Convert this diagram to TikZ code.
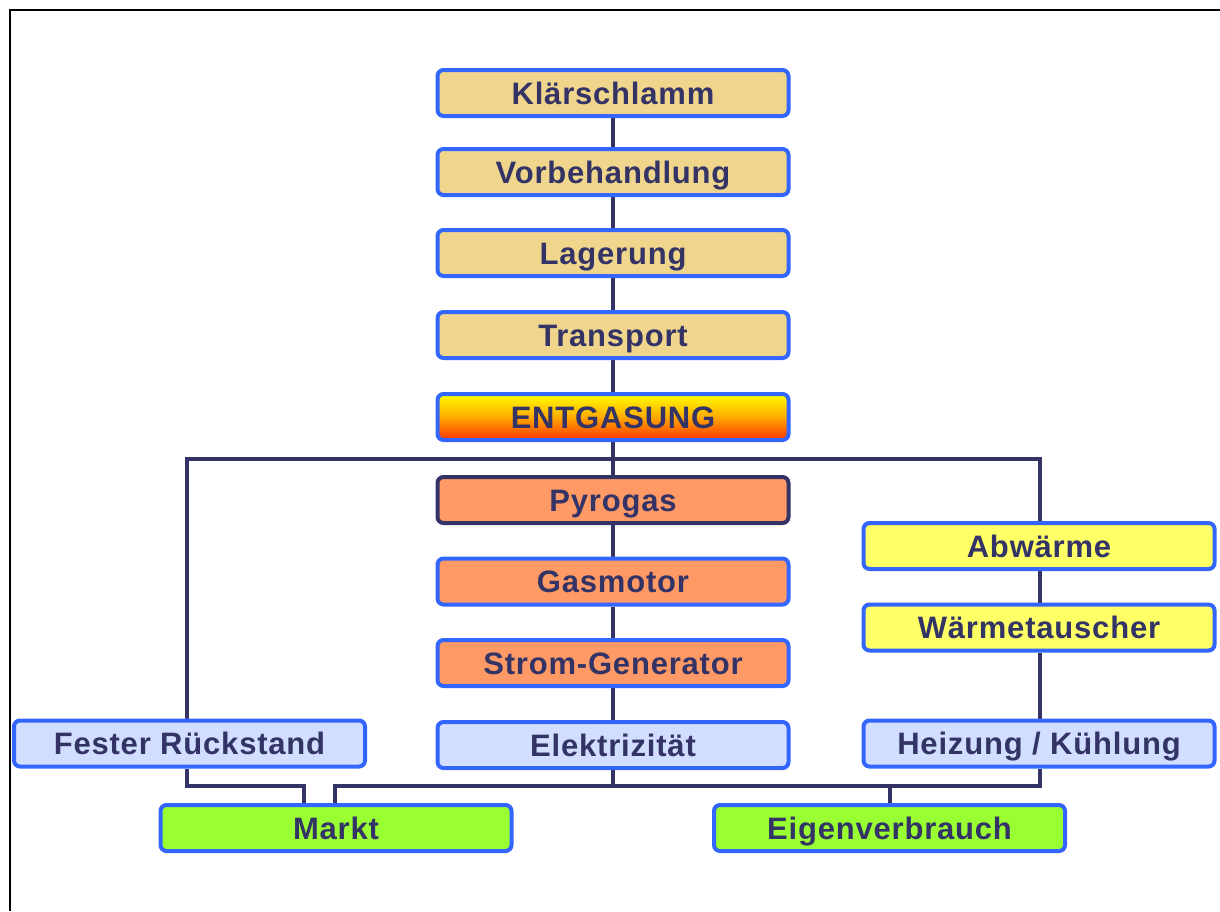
\documentclass[tikz,border=0pt]{standalone}
\usepackage{fontspec}
\setmainfont{Liberation Sans}
\newfontfamily\boxfont[LetterSpace=2.6]{Liberation Sans}
\usetikzlibrary{backgrounds}
\definecolor{navy}{HTML}{333366}
\definecolor{bblue}{HTML}{3366FF}
\definecolor{beige}{HTML}{F0D68C}
\definecolor{orng}{HTML}{FF9966}
\definecolor{lav}{HTML}{D2DEFF}
\definecolor{yel}{HTML}{FFFF66}
\definecolor{grn}{HTML}{99FF33}
\tikzset{
  box/.style={draw=bblue, line width=4pt, rounded corners=6pt, minimum width=351pt,
    minimum height=46pt, inner sep=0pt, text height=22pt, text depth=0pt,
    text=navy, font=\boxfont\fontsize{31}{31}\selectfont\bfseries},
  conn/.style={draw=navy, line width=4pt},
  frameline/.style={draw=black, line width=2pt}
}
\begin{document}
\begin{tikzpicture}[x=1pt,y=-1pt]
\useasboundingbox (0,0) rectangle (1220,911);
\draw[frameline] (9.5,911) -- (9.5,9.5) -- (1220,9.5);

\node[box, fill=beige] (K) at (613,93) {Klärschlamm};
\node[box, fill=beige] (V) at (613,172) {Vorbehandlung};
\node[box, fill=beige] (L) at (613,253) {Lagerung};
\node[box, fill=beige] (T) at (613,335) {Transport};
\node[box, top color=yellow, bottom color={rgb,255:red,255;green,51;blue,0}, middle color={rgb,255:red,255;green,170;blue,0}] (E) at (613,417) {ENTGASUNG};
\node[box, draw=navy, fill=orng] (P) at (613,500) {Pyrogas};
\node[box, fill=orng] (G) at (613,581.5) {Gasmotor};
\node[box, fill=orng] (S) at (613,663) {Strom-Generator};
\node[box, fill=lav] (El) at (613,745) {Elektrizität};
\node[box, fill=lav] (F) at (189.5,743.5) {Fester Rückstand};
\node[box, fill=lav] (H) at (1039,743.5) {Heizung / Kühlung};
\node[box, fill=yel] (A) at (1039,546) {Abwärme};
\node[box, fill=yel] (W) at (1039,627.5) {Wärmetauscher};
\node[box, fill=grn] (M) at (336,828) {Markt};
\node[box, fill=grn] (Eg) at (889.5,828) {Eigenverbrauch};

\coordinate (hl) at (187,459);
\coordinate (hr) at (1040,459);
\coordinate (bl) at (187,786);
\coordinate (ml) at (304,786);
\coordinate (mr) at (335,786);
\coordinate (br) at (1040,786);

\begin{scope}[on background layer]
\draw[conn] (K) -- (V);
\draw[conn] (V) -- (L);
\draw[conn] (L) -- (T);
\draw[conn] (T) -- (E);
\draw[conn] (E) -- (P);
\draw[conn] (P) -- (G);
\draw[conn] (G) -- (S);
\draw[conn] (S) -- (El);
\draw[conn] (F.north -| hl) -- (hl) -- (hr) -- (A.north -| hr);
\draw[conn] (A.south -| hr) -- (W.north -| hr);
\draw[conn] (W.south -| hr) -- (H.north -| hr);
\draw[conn] (F.south -| bl) -- (bl) -- (ml) -- (M.north -| ml);
\draw[conn] (M.north -| mr) -- (mr) -- (br) -- (H.south -| br);
\draw[conn] (El.south) -- (El.south |- mr);
\draw[conn] (Eg.north) -- (Eg.north |- mr);
\end{scope}
\end{tikzpicture}
\end{document}
